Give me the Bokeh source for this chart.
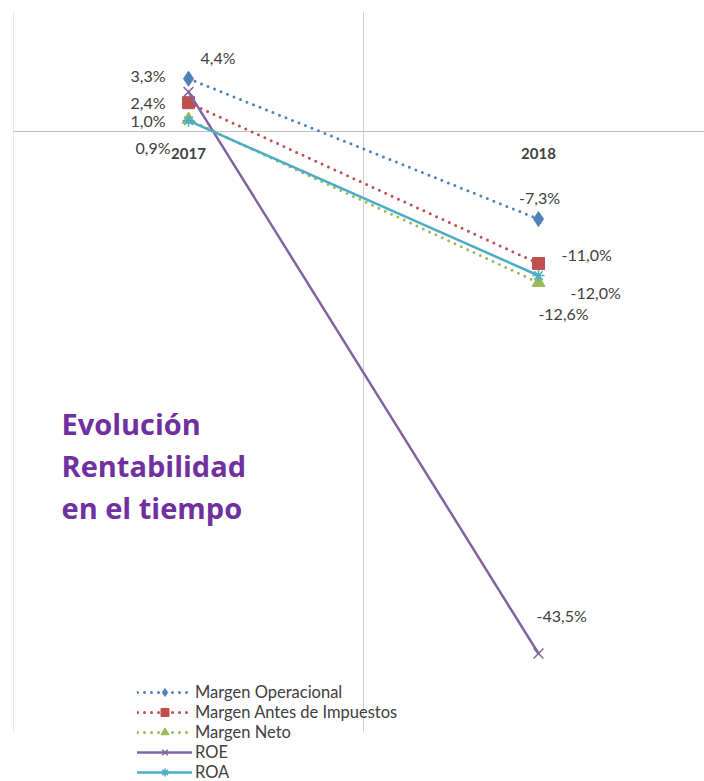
from bokeh.plotting import figure
from bokeh.models import ColumnDataSource, Range1d, Grid, FixedTicker, Label
from bokeh.core.properties import value
from bokeh.embed import file_html
from bokeh.resources import INLINE

# ---- data ----
categories = ["2017", "2018"]
margen_operacional = [4.4, -7.3]
margen_antes_impuestos = [2.4, -11.0]
margen_neto = [1.0, -12.6]
roe = [3.3, -43.5]
roa = [0.9, -12.0]
series_names = ["Margen Operacional", "Margen Antes de Impuestos", "Margen Neto", "ROE", "ROA"]
title_lines = ["Evolución", "Rentabilidad", "en el tiempo"]

# ---- styling / layout ----
FONT = "Lato"
LABEL_COLOR = "#404040"
PX_PER_UNIT_Y = 12.0
PLOT_TOP, PLOT_BOTTOM = 10, -50      # value-axis extent of the plot area
styles = [
    dict(color="#4f81bd", dash="0 7", width=3, marker="diamond", size=15),
    dict(color="#c0504d", dash="0 7", width=3, marker="square", size=12),
    dict(color="#9bbb59", dash="0 7", width=3, marker="triangle", size=13),
    dict(color="#8064a2", dash="solid", width=2.5, marker="x", size=14),
    dict(color="#4bacc6", dash="solid", width=2.5, marker="asterisk", size=12),
]
# data label placement (dx, dy in px, align) per series per category
label_place = [
    [(12, -21, "left"), (1, -22, "center")],
    [(-23, 0, "right"), (23, -9, "left")],
    [(-23, 1, "right"), (25, 31, "center")],
    [(-23, -16, "right"), (-2, -38, "left")],
    [(-18, 27, "right"), (32, 17, "left")],
]

series_values = [margen_operacional, margen_antes_impuestos, margen_neto, roe, roa]
xs = [i + 0.5 for i in range(len(categories))]

W, H = 704, 781
BL, BT = 13, 11
frame_w, frame_h = W - BL, H - BT
p = figure(width=W, height=H, output_backend="svg", toolbar_location=None,
           title=None, x_axis_location=None, y_axis_location=None,
           x_range=Range1d(0, frame_w / 350),
           y_range=Range1d(PLOT_TOP - frame_h / PX_PER_UNIT_Y, PLOT_TOP),
           min_border_left=BL, min_border_right=0, min_border_top=BT, min_border_bottom=0)
p.outline_line_color = None
p.background_fill_color = "white"
p.border_fill_color = "white"
# drop default grids
p.center = [r for r in p.center if not isinstance(r, Grid)]

# vertical category-boundary gridlines limited to the plot area
bounds = list(range(len(categories) + 1))
p.segment(x0=bounds, y0=[PLOT_BOTTOM] * len(bounds), x1=bounds, y1=[PLOT_TOP] * len(bounds),
          line_color="#d0d0d0", line_width=1)
# horizontal axis line at zero
p.add_layout(Grid(dimension=1, ticker=FixedTicker(ticks=[0]),
                  grid_line_color="#bfbfbf", grid_line_width=1))

# category labels at zero line
p.text(x=xs, y=[0] * len(xs), text=categories, y_offset=22,
       text_align="center", text_baseline="middle",
       text_font=value(FONT), text_font_style="bold", text_font_size="15px",
       text_color=LABEL_COLOR)

for name, vals, st, place in zip(series_names, series_values, styles, label_place):
    src = ColumnDataSource(dict(
        x=xs, y=vals,
        lab=[f"{v:.1f}".replace(".", ",") + "%" for v in vals],
        dx=[pl[0] for pl in place], dy=[pl[1] for pl in place],
        al=[pl[2] for pl in place]))
    p.line("x", "y", source=src, line_color=st["color"], line_width=st["width"],
           line_dash=st["dash"], line_cap="round", legend_label=name)
    if st["marker"] in ("x", "asterisk"):
        p.scatter("x", "y", source=src, marker=st["marker"], size=st["size"],
                  line_color=st["color"], line_width=1.5, legend_label=name)
    else:
        p.scatter("x", "y", source=src, marker=st["marker"], size=st["size"],
                  fill_color=st["color"], line_color=st["color"], legend_label=name)
    p.text("x", "y", text="lab", source=src, x_offset="dx", y_offset="dy",
           text_align="al", text_baseline="middle", text_font=value(FONT),
           text_font_size="16px", text_color=LABEL_COLOR)

# title text box
title_y_px = [423, 465, 507]
for line, ypx in zip(title_lines, title_y_px):
    p.add_layout(Label(x=(61 - BL) / 350, y=PLOT_TOP - (ypx - BT) / PX_PER_UNIT_Y, text=line,
                       text_font="Open Sans", text_font_style="bold", text_font_size="29px",
                       text_color="#7030a0", text_baseline="alphabetic"))

lg = p.legend[0]
lg.location = (124, -1)
lg.background_fill_alpha = 0
lg.border_line_color = None
lg.padding = 0
lg.margin = 0
lg.spacing = 0
lg.glyph_width = 55
lg.glyph_height = 20
lg.label_height = 20
lg.label_standoff = 3
lg.label_text_font = FONT
lg.label_text_font_size = "16.5px"
lg.label_text_color = LABEL_COLOR

open("out.html", "w").write(file_html(p, INLINE))
